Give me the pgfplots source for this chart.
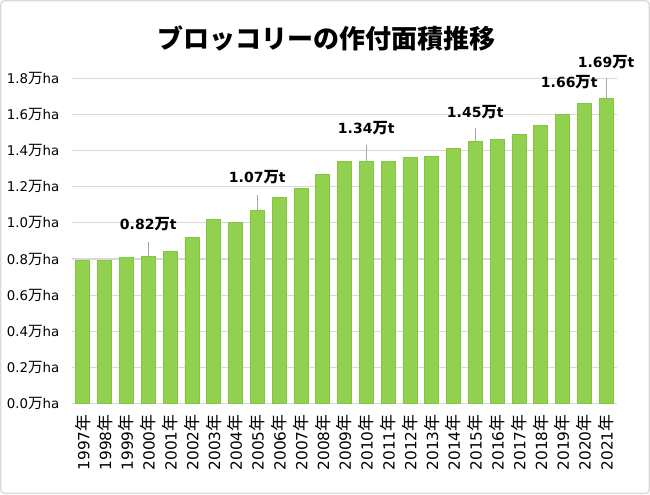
\documentclass[border=0pt]{standalone}
\usepackage{fontspec}
\setmainfont{DejaVu Sans}
\newfontfamily\cjk[Scale=1.1]{Noto Sans CJK JP}
\newfontfamily\cjkt{Noto Sans CJK JP}
\usepackage{pgfplots}
\pgfplotsset{compat=1.18}
\definecolor{bargreen}{HTML}{92D050}
\definecolor{baredge}{HTML}{84C63F}
\definecolor{gridgray}{HTML}{D9D9D9}
\definecolor{leader}{HTML}{A6A6A6}
\newcommand{\man}{{\cjk 万}}
\newcommand{\nen}{{\cjk 年}}
\begin{document}
\begin{tikzpicture}[x=1pt,y=1pt]
\path[use as bounding box] (0,0) rectangle (487.5,370.5);
\draw[gridgray, line width=1pt, rounded corners=3pt] (0.5,0.5) rectangle (487,370);
\node[font=\cjkt\bfseries\fontsize{19.5}{22}\selectfont] at (245,342) {ブロッコリーの作付面積推移};
\begin{axis}[
  at={(54pt,67.8pt)}, anchor=south west,
  scale only axis, width=408.75pt, height=243.975pt,
  xmin=-0.5, xmax=24.5, ymin=0, ymax=1.8,
  clip=false,
  axis line style={draw=none},
  axis x line*=bottom,
  x axis line style={draw=gridgray, line width=0.8pt},
  ymajorgrids, grid style={gridgray, line width=0.8pt},
  major tick length=0pt,
  ytick={0,0.2,0.4,0.6,0.8,1.0,1.2,1.4,1.6,1.8},
  yticklabels={0.0\man ha,0.2\man ha,0.4\man ha,0.6\man ha,0.8\man ha,1.0\man ha,1.2\man ha,1.4\man ha,1.6\man ha,1.8\man ha},
  yticklabel style={font=\fontsize{10}{12}\selectfont, anchor=east, xshift=-6pt},
  xtick={0,...,24},
  xticklabels={1997\nen,1998\nen,1999\nen,2000\nen,2001\nen,2002\nen,2003\nen,2004\nen,2005\nen,2006\nen,2007\nen,2008\nen,2009\nen,2010\nen,2011\nen,2012\nen,2013\nen,2014\nen,2015\nen,2016\nen,2017\nen,2018\nen,2019\nen,2020\nen,2021\nen},
  xticklabel style={font=\fontsize{11.5}{13}\selectfont, rotate=90, anchor=east, inner sep=0pt},
  xticklabel shift=8pt,
  xtick style={draw=none},
]
\addplot[ybar, bar width=10.5pt, fill=bargreen, draw=baredge, line width=0.6pt] coordinates {
(0,0.79) (1,0.79) (2,0.81) (3,0.815) (4,0.84) (5,0.92) (6,1.02) (7,1.00) (8,1.07) (9,1.14)
(10,1.19) (11,1.27) (12,1.34) (13,1.34) (14,1.34) (15,1.36) (16,1.37) (17,1.41) (18,1.45) (19,1.46)
(20,1.49) (21,1.54) (22,1.60) (23,1.66) (24,1.69)
};
\draw[leader, line width=0.6pt] (axis cs:3,0.896) -- (axis cs:3,0.817);
\draw[leader, line width=0.6pt] (axis cs:8,1.154) -- (axis cs:8,1.07);
\draw[leader, line width=0.6pt] (axis cs:13,1.431) -- (axis cs:13,1.34);
\draw[leader, line width=0.6pt] (axis cs:18,1.525) -- (axis cs:18,1.45);
\draw[leader, line width=0.6pt] (axis cs:24,1.80) -- (axis cs:24,1.69);
\tikzset{dl/.style={font=\bfseries\fontsize{10.5}{12}\selectfont, inner sep=0pt}}
\node[dl] at (axis cs:3,0.994) {0.82\man t};
\node[dl] at (axis cs:8,1.254) {1.07\man t};
\node[dl] at (axis cs:13,1.525) {1.34\man t};
\node[dl] at (axis cs:18,1.615) {1.45\man t};
\node[dl] at (axis cs:22.31,1.781) {1.66\man t};
\node[dl] at (axis cs:24,1.892) {1.69\man t};
\end{axis}
\end{tikzpicture}
\end{document}
